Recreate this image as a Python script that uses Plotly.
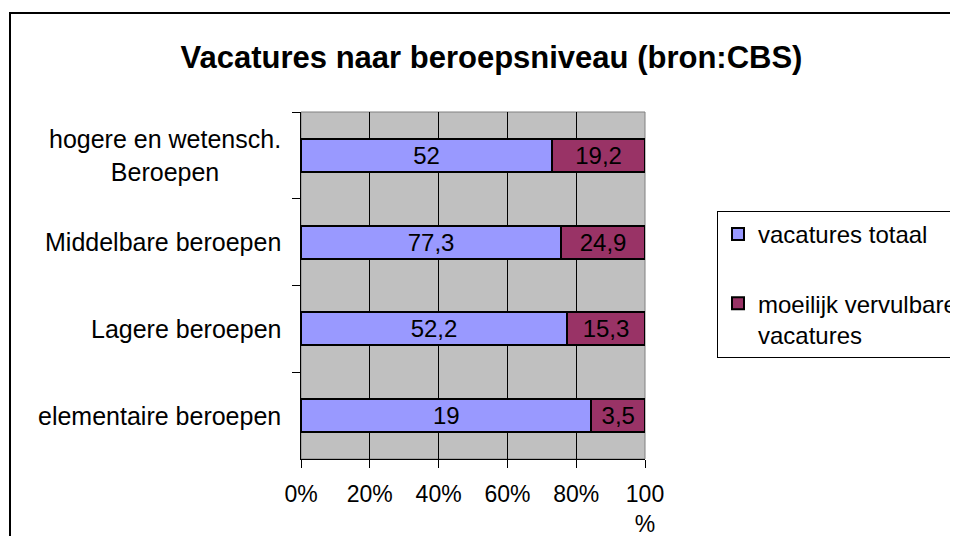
import plotly.graph_objects as go

categories = ["hogere en wetensch.<br>Beroepen", "Middelbare beroepen", "Lagere beroepen", "elementaire beroepen"]
vacatures_totaal = [52, 77.3, 52.2, 19]
moeilijk_vervulbaar = [19.2, 24.9, 15.3, 3.5]
series_names = ["vacatures totaal", "moeilijk vervulbare<br>vacatures"]
x_tickvals = [0, 20, 40, 60, 80, 100]
x_ticktext = ["0%", "20%", "40%", "60%", "80%", "100<br>%"]

FONT = "Liberation Sans, Arial, sans-serif"
LBL = 24

def fmt(v):
    return ("%g" % v).replace(".", ",")

fig = go.Figure()
for name, vals, color, grp in [
    (series_names[0], vacatures_totaal, "#9999FF", "a"),
    (series_names[1], moeilijk_vervulbaar, "#993366", "b"),
]:
    fig.add_trace(go.Bar(
        y=categories, x=vals, name=name, orientation="h",
        marker=dict(color=color, line=dict(color="black", width=2)),
        text=[fmt(v) for v in vals], textposition="inside", textangle=0,
        insidetextanchor="middle", constraintext="none",
        textfont=dict(family=FONT, size=LBL, color="black"),
        legendgroup=grp, hoverinfo="skip",
    ))

# page body has an 8px margin, so the figure is drawn 8px smaller
W, H = 950, 528
L, R, T, B = 293, 313, 104, 77
pw, ph = W - L - R, H - T - B

fig.update_layout(
    width=W, height=H,
    margin=dict(l=L, r=R, t=T, b=B, autoexpand=False),
    barmode="stack", barnorm="percent", bargap=0.62,
    plot_bgcolor="#C0C0C0", paper_bgcolor="white",
    font=dict(family=FONT, size=LBL, color="black"),
    title=dict(text="<b>Vacatures naar beroepsniveau (bron:CBS)</b>",
               x=483.5 / W, xanchor="center", y=1 - 49 / H, yanchor="middle",
               font=dict(family=FONT, size=31, color="black")),
    showlegend=True,
    legend=dict(x=(709 - L) / pw, y=1 - (203 - T) / ph, xanchor="left", yanchor="top",
                bordercolor="black", borderwidth=1, bgcolor="white",
                font=dict(family=FONT, size=LBL, color="black"),
                tracegroupgap=35, valign="top", traceorder="grouped"),
    xaxis=dict(range=[0, 100], tickvals=x_tickvals, ticktext=x_ticktext,
               showgrid=True, gridcolor="black", gridwidth=1,
               showline=True, linecolor="black", linewidth=1,
               ticks="outside", ticklen=8, tickcolor="black", ticklabelstandoff=6,
               tickfont=dict(family=FONT, size=23, color="black"),
               zeroline=False, fixedrange=True),
    yaxis=dict(autorange="reversed", type="category", showticklabels=False,
               showline=True, linecolor="black", linewidth=1,
               ticks="outside", ticklen=8, tickcolor="black", tickson="boundaries",
               showgrid=False, fixedrange=True),
)

# category labels, centred multi-line like the original
for c in categories:
    fig.add_annotation(x=0, y=c, xref="paper", yref="y", text=c, showarrow=False,
                       xanchor="right", xshift=-18, align="center",
                       font=dict(family=FONT, size=25, color="black"))

# plot area border (grey) and outer chart border
fig.add_shape(type="rect", xref="paper", yref="paper", x0=0, x1=1, y0=0, y1=1,
              line=dict(color="#808080", width=1), layer="below")
fig.add_shape(type="rect", xref="paper", yref="paper",
              x0=(2 - L) / pw, x1=(W + 20 - L) / pw,
              y0=-(B + 20) / ph, y1=1 + (T - 5) / ph,
              line=dict(color="black", width=2), layer="above")

fig.write_html("out.html")
